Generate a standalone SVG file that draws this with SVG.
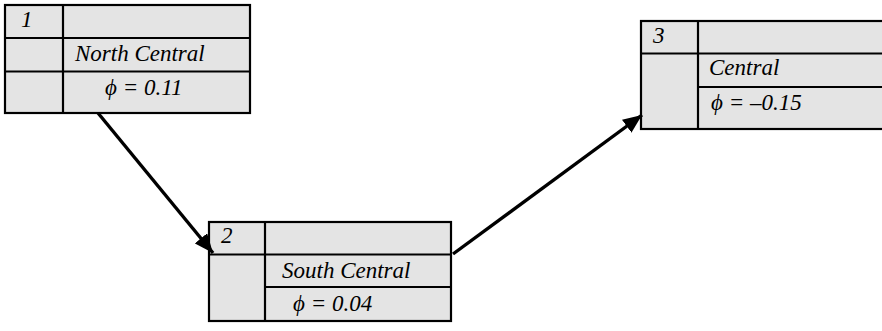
<svg xmlns="http://www.w3.org/2000/svg" width="882" height="331" viewBox="0 0 882 331">
  <style>
    .box { fill: #e4e4e4; stroke: #000; stroke-width: 2.2; }
    .rule { stroke: #000; stroke-width: 2.2; fill: none; }
    .lbl { font-family: "Liberation Serif", "Times New Roman", serif; font-style: italic; font-size: 23px; fill: #000; }
    .edge { stroke: #000; stroke-width: 3.4; fill: none; }
  </style>
  <defs>
    <marker id="arrow" markerUnits="userSpaceOnUse" markerWidth="20" markerHeight="16" refX="19" refY="8" orient="auto">
      <path d="M0,0 L19,8 L0,16 Z" fill="#000"/>
    </marker>
  </defs>
  <rect width="882" height="331" fill="#fff"/>

  <!-- Node 1: North Central -->
  <g id="node1">
    <rect class="box" x="5" y="5" width="245" height="108"/>
    <line class="rule" x1="63" y1="5" x2="63" y2="113"/>
    <line class="rule" x1="5" y1="38" x2="250" y2="38"/>
    <line class="rule" x1="5" y1="71.5" x2="250" y2="71.5"/>
    <text class="lbl" x="21" y="27">1</text>
    <text class="lbl" x="75" y="61">North Central</text>
    <text class="lbl" x="105" y="95">ϕ = 0.11</text>
  </g>

  <!-- Node 2: South Central -->
  <g id="node2">
    <rect class="box" x="209" y="222" width="242" height="99"/>
    <line class="rule" x1="265" y1="222" x2="265" y2="321"/>
    <line class="rule" x1="209" y1="254.5" x2="451" y2="254.5"/>
    <line class="rule" x1="265" y1="287" x2="451" y2="287"/>
    <text class="lbl" x="221" y="243">2</text>
    <text class="lbl" x="282" y="278">South Central</text>
    <text class="lbl" x="293" y="311">ϕ = 0.04</text>
  </g>

  <!-- Node 3: Central -->
  <g id="node3">
    <rect class="box" x="641" y="21" width="260" height="108"/>
    <line class="rule" x1="698" y1="21" x2="698" y2="129"/>
    <line class="rule" x1="641" y1="53.5" x2="882" y2="53.5"/>
    <line class="rule" x1="698" y1="87" x2="882" y2="87"/>
    <text class="lbl" x="653" y="43">3</text>
    <text class="lbl" x="709" y="75">Central</text>
    <text class="lbl" x="711" y="110">ϕ = –0.15</text>
  </g>

  <!-- Connectors -->
  <g id="edges">
    <line class="edge" x1="98" y1="113" x2="213" y2="253" marker-end="url(#arrow)"/>
    <line class="edge" x1="453" y1="254" x2="642" y2="115" marker-end="url(#arrow)"/>
  </g>
</svg>
